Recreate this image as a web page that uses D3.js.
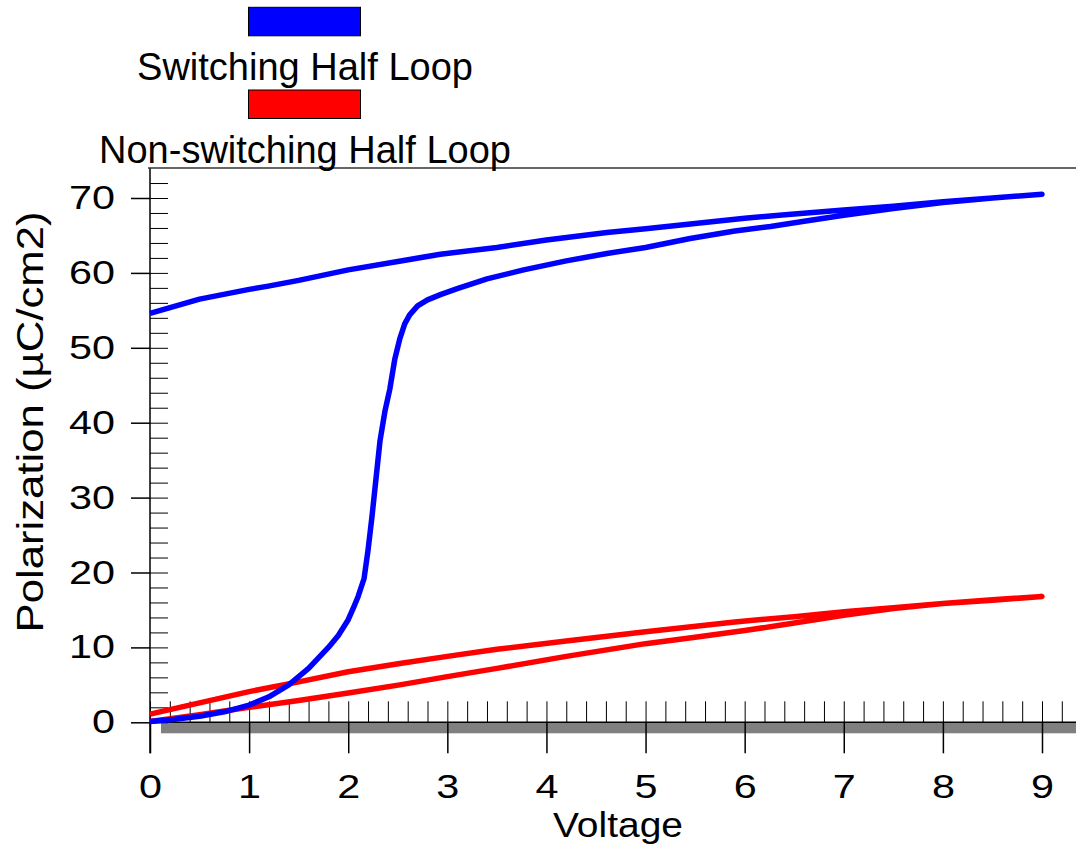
<!DOCTYPE html>
<html>
<head>
<meta charset="utf-8">
<script src="https://d3js.org/d3.v7.min.js"></script>
<style>
  body { margin: 0; background: #fff; }
  text { font-family: "Liberation Sans", Arial, sans-serif; fill: #000; }
</style>
</head>
<body>
<div id="chart"></div>
<script>
// values (voltage in V, polarization in µC/cm2)
const switchUpV = [0, 0.25, 0.5, 0.75, 1.0, 1.2, 1.4, 1.6, 1.8, 1.9, 2.0, 2.05, 2.1, 2.16, 2.2, 2.24, 2.28, 2.32, 2.37, 2.42, 2.47, 2.52, 2.57, 2.62, 2.7, 2.8, 2.93, 3.1, 3.4, 3.77, 4.2, 4.61, 5.0, 5.45, 5.9, 6.26, 6.6, 7.0, 7.5, 8.0, 8.5, 9.0];
const switchUpP = [0.1, 0.4, 0.8, 1.4, 2.3, 3.4, 5.0, 7.2, 10.0, 11.6, 13.7, 15.2, 16.8, 19.2, 23, 27.5, 32.5, 37.5, 41.5, 44.5, 48.5, 51.2, 53.2, 54.4, 55.6, 56.4, 57.1, 57.9, 59.2, 60.4, 61.6, 62.6, 63.4, 64.6, 65.6, 66.2, 66.9, 67.7, 68.6, 69.4, 70.0, 70.5];
const switchDownV = [9.0, 8.5, 8.0, 7.5, 7.0, 6.5, 6.26, 6.0, 5.5, 5.0, 4.61, 4.0, 3.5, 2.93, 2.53, 2.0, 1.5, 1.18, 1.0, 0.5, 0];
const switchDownP = [70.5, 70.0, 69.5, 68.9, 68.4, 67.85, 67.6, 67.3, 66.6, 65.9, 65.4, 64.4, 63.4, 62.5, 61.6, 60.4, 59.0, 58.2, 57.8, 56.5, 54.6];

const nonSwitchUpV = [0, 0.5, 1.0, 1.5, 2.0, 2.52, 3.0, 3.5, 4.2, 5.0, 5.5, 6.0, 6.5, 7.0, 7.5, 8.0, 8.5, 9.0];
const nonSwitchUpP = [0.1, 1.0, 2.0, 2.9, 3.9, 5.0, 6.1, 7.2, 8.8, 10.5, 11.35, 12.25, 13.25, 14.3, 15.2, 15.85, 16.35, 16.8];
const nonSwitchDownV = [9.0, 8.5, 8.0, 7.5, 7.03, 6.5, 5.9, 5.0, 4.2, 3.5, 3.0, 2.52, 2.0, 1.5, 1.0, 0.5, 0];
const nonSwitchDownP = [16.8, 16.3, 15.85, 15.3, 14.8, 14.1, 13.4, 12.1, 10.85, 9.75, 8.8, 7.85, 6.75, 5.4, 4.1, 2.6, 1.1];

const xTicks = [0, 1, 2, 3, 4, 5, 6, 7, 8, 9];
const yTicks = [0, 10, 20, 30, 40, 50, 60, 70];
const seriesNames = ["Switching Half Loop", "Non-switching Half Loop"];
const seriesColors = ["#0000ff", "#ff0000"];

const width = 1076;
const height = 844;

const svg = d3.select("#chart")
    .append("svg")
    .attr("width", width)
    .attr("height", height);

const x = d3.scaleLinear().domain([0, 9]).range([150, 1042]);
const y = d3.scaleLinear().domain([0, 70]).range([722.3, 198]);
const yMax = 74;

// grey strip under the x axis
svg.append("rect")
    .attr("x", x(0) + 11)
    .attr("y", y(0))
    .attr("width", width - x(0) - 11)
    .attr("height", 11)
    .attr("fill", "#808080");

// x minor ticks (upward) and major ticks (downward with labels)
const xMinor = d3.range(0, 9.3, 0.2);
svg.append("g")
    .attr("transform", `translate(0,${y(0)})`)
    .call(d3.axisTop(x).tickValues(xMinor).tickSize(21).tickFormat(""))
    .call(g => g.select(".domain").remove());

svg.append("g")
    .attr("transform", `translate(0,${y(0)})`)
    .call(d3.axisBottom(x).tickValues(xTicks).tickSize(31).tickPadding(21).tickFormat(d3.format("d")))
    .call(g => g.select(".domain").remove())
    .call(g => g.selectAll("line").attr("stroke-width", 1.5))
    .call(g => g.selectAll("text")
        .style("font-size", "33px")
        .attr("textLength", d => String(d).length * 23)
        .attr("lengthAdjust", "spacingAndGlyphs"));

// y ticks: majors stick out left with labels, all ticks inside
svg.append("g")
    .attr("transform", `translate(${x(0)},0)`)
    .call(d3.axisRight(y).tickValues(d3.range(0, 73, 2)).tickSize(18).tickFormat(""))
    .call(g => g.select(".domain").remove());

svg.append("g")
    .attr("transform", `translate(${x(0)},0)`)
    .call(d3.axisLeft(y).tickValues(yTicks).tickSize(19).tickPadding(16).tickFormat(d3.format("d")))
    .call(g => g.select(".domain").remove())
    .call(g => g.selectAll("line").attr("stroke-width", 1.5))
    .call(g => g.selectAll("text")
        .style("font-size", "33px")
        .attr("textLength", d => String(d).length * 23)
        .attr("lengthAdjust", "spacingAndGlyphs"));

// axis lines and top frame
svg.append("line")
    .attr("x1", x(0)).attr("x2", x(0))
    .attr("y1", y(yMax)).attr("y2", y(0) + 31)
    .attr("stroke", "#000").attr("stroke-width", 1.5);
svg.append("line")
    .attr("x1", x(0)).attr("x2", width)
    .attr("y1", y(0)).attr("y2", y(0))
    .attr("stroke", "#000").attr("stroke-width", 1.5);
svg.append("line")
    .attr("x1", x(0) - 2).attr("x2", width)
    .attr("y1", y(yMax)).attr("y2", y(yMax))
    .attr("stroke", "#333").attr("stroke-width", 1.5);

// loops
const line = d3.line()
    .x(d => x(d[0]))
    .y(d => y(d[1]));

const loops = [
    { v: nonSwitchUpV.concat(nonSwitchDownV), p: nonSwitchUpP.concat(nonSwitchDownP), color: seriesColors[1] },
    { v: switchUpV.concat(switchDownV), p: switchUpP.concat(switchDownP), color: seriesColors[0] }
];

loops.forEach(s => {
    svg.append("path")
        .datum(s.v.map((v, i) => [v, s.p[i]]))
        .attr("fill", "none")
        .attr("stroke", s.color)
        .attr("stroke-width", 5.5)
        .attr("stroke-linejoin", "round")
        .attr("d", line);
});

// legend
const legendY = [7.3, 90];
const legendTextY = [80, 163];
seriesNames.forEach((name, i) => {
    svg.append("rect")
        .attr("x", 248.5)
        .attr("y", legendY[i])
        .attr("width", 112)
        .attr("height", 28.5)
        .attr("fill", seriesColors[i])
        .attr("stroke", "#000")
        .attr("stroke-width", 1);
    svg.append("text")
        .attr("x", 305)
        .attr("y", legendTextY[i])
        .style("text-anchor", "middle")
        .style("font-size", "38px")
        .text(name);
});

// axis titles
svg.append("text")
    .attr("x", 618)
    .attr("y", 837)
    .style("text-anchor", "middle")
    .style("font-size", "35px")
    .attr("textLength", 130)
    .attr("lengthAdjust", "spacingAndGlyphs")
    .text("Voltage");

svg.append("text")
    .attr("transform", "translate(43,422) rotate(-90)")
    .style("text-anchor", "middle")
    .style("font-size", "37px")
    .attr("textLength", 421)
    .attr("lengthAdjust", "spacingAndGlyphs")
    .text("Polarization (µC/cm2)");
</script>
</body>
</html>
